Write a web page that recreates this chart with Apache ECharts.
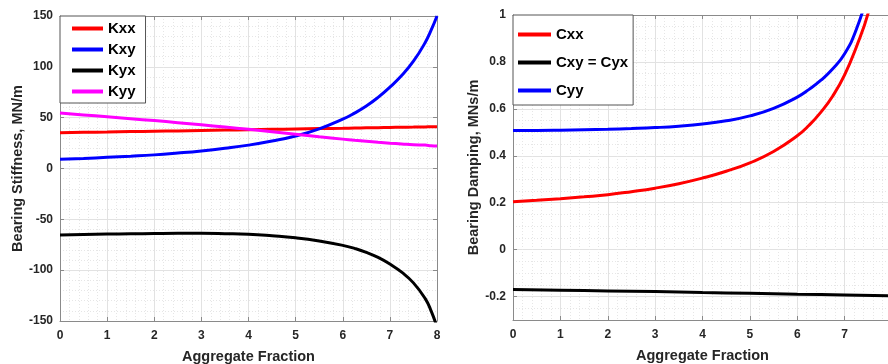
<!DOCTYPE html>
<html>
<head>
<meta charset="utf-8">
<script src="https://cdn.jsdelivr.net/npm/echarts@6/dist/echarts.min.js"></script>
<style>
  html, body { margin: 0; padding: 0; background: #fff; }
  #chart { width: 888px; height: 364px; }
</style>
</head>
<body>
<div id="chart"></div>
<script>
// stiffness panel (MN/m)
const kX   = [0, 0.5, 1, 1.5, 2, 2.5, 3, 3.5, 4, 4.5, 5, 5.5, 6, 6.25, 6.5, 6.75, 7, 7.25, 7.5, 7.75, 7.875, 8];
const kxx  = [35.2, 35.6, 35.9, 36.3, 36.7, 37.0, 37.4, 37.8, 38.1, 38.5, 38.9, 39.3, 39.6, 39.8, 40.0, 40.2, 40.4, 40.6, 40.7, 40.9, 41.0, 41.1];
const kxy  = [9, 9.9, 11, 12.1, 13.4, 15.2, 17.3, 19.9, 23, 27, 32, 39, 48.5, 54.5, 61.5, 70, 80, 91.5, 105.5, 124, 136, 150];
const kyx  = [-65.3, -64.9, -64.5, -64.2, -63.95, -63.8, -63.8, -64.1, -64.7, -66.2, -68.2, -71.3, -75.6, -78.6, -82.5, -87.5, -94, -102, -112.5, -128, -140, -156];
const kyy  = [54.5, 52.7, 50.9, 49, 47.1, 45.1, 43, 40.8, 38.5, 36.1, 33.7, 31.2, 28.9, 27.8, 26.8, 25.8, 24.9, 24.1, 23.3, 23.0, 22.4, 22.1];

// damping panel (MNs/m)
const cX   = [0, 0.5, 1, 1.5, 2, 2.5, 3, 3.5, 4, 4.5, 5, 5.5, 6, 6.25, 6.5, 6.75, 7, 7.25, 7.5, 7.75];
const cxx  = [0.204, 0.21, 0.217, 0.225, 0.234, 0.247, 0.262, 0.281, 0.305, 0.334, 0.37, 0.418, 0.485, 0.53, 0.586, 0.655, 0.745, 0.865, 1.01, 1.22];
const cyy  = [0.508, 0.508, 0.509, 0.511, 0.513, 0.516, 0.52, 0.526, 0.535, 0.549, 0.57, 0.602, 0.65, 0.683, 0.722, 0.771, 0.835, 0.94, 1.1, 1.33];
const cxyX = [0, 1, 2, 3, 4, 5, 6, 7, 8];
const cxy  = [-0.170, -0.173, -0.176, -0.179, -0.183, -0.186, -0.190, -0.193, -0.197];

const yTicksC = [-0.2, 0, 0.2, 0.4, 0.6, 0.8, 1];

const pair = (xs, ys) => xs.map((x, i) => [x, ys[i]]);

const font = 'Liberation Sans, Arial, Helvetica, sans-serif';
const axisColor = '#8a8a8a';
const tickLabel = { color: '#262626', fontFamily: font, fontWeight: 'bold', fontSize: 12 };
const nameStyle = { color: '#262626', fontFamily: font, fontWeight: 'bold', fontSize: 14.5 };
const major = { show: true, lineStyle: { color: '#e2e2e2', width: 1, type: 'solid' } };
const minor = { show: true, lineStyle: { color: '#e6e6e6', width: 1, type: [1, 2] } };

const mainX = (gridIndex) => ({
  type: 'value', gridIndex, position: 'bottom', min: 0, max: 8, interval: 1,
  name: 'Aggregate Fraction', nameLocation: 'middle', nameGap: 28, nameTextStyle: nameStyle,
  axisLine: { show: true, onZero: false, lineStyle: { color: axisColor } },
  axisTick: { show: true, inside: true, length: 4, lineStyle: { color: axisColor } },
  axisLabel: Object.assign({ margin: 9 }, tickLabel),
  splitLine: major,
  minorTick: { show: false, splitNumber: 5 },
  minorSplitLine: minor
});

const mirror = (gridIndex, position, extra) => Object.assign({
  type: 'value', gridIndex, position,
  axisLine: { show: true, onZero: false, lineStyle: { color: axisColor } },
  axisTick: { show: true, inside: true, length: 4, lineStyle: { color: axisColor } },
  axisLabel: { show: false },
  splitLine: { show: false }
}, extra);

const line = (name, color, data, xi, yi) => ({
  name, type: 'line', xAxisIndex: xi, yAxisIndex: yi, data,
  showSymbol: false, smooth: true, clip: true,
  lineStyle: { color, width: 3 }, itemStyle: { color },
  emphasis: { disabled: true }
});

const legendBase = {
  orient: 'vertical', icon: 'rect', itemHeight: 4,
  backgroundColor: '#fff', borderColor: '#555', borderWidth: 1, borderRadius: 0,
  textStyle: { color: '#000', fontFamily: font, fontWeight: 'bold', fontSize: 15 },
  selectedMode: false
};

const chart = echarts.init(document.getElementById('chart'), null, { renderer: 'canvas' });
chart.setOption({
  animation: false,
  backgroundColor: '#fff',
  grid: [
    { left: 60, top: 16, width: 377, height: 305, outerBoundsMode: 'none', containLabel: false },
    { left: 513, top: 15, width: 379, height: 305, outerBoundsMode: 'none', containLabel: false }
  ],
  xAxis: [
    mainX(0),
    mirror(0, 'top', { min: 0, max: 8, interval: 1 }),
    mainX(1),
    mirror(1, 'top', { min: 0, max: 8, interval: 1 })
  ],
  yAxis: [
    {
      type: 'value', gridIndex: 0, position: 'left', min: -150, max: 150, interval: 50,
      name: 'Bearing Stiffness, MN/m', nameLocation: 'middle', nameGap: 35, nameTextStyle: nameStyle,
      axisLine: { show: true, lineStyle: { color: axisColor } },
      axisTick: { show: true, inside: true, length: 4, lineStyle: { color: axisColor } },
      axisLabel: Object.assign({ margin: 7 }, tickLabel),
      splitLine: major,
      minorTick: { show: false, splitNumber: 5 },
      minorSplitLine: minor
    },
    mirror(0, 'right', { min: -150, max: 150, interval: 50 }),
    {
      type: 'value', gridIndex: 1, position: 'left', min: -0.3, max: 1, splitNumber: 6,
      name: 'Bearing Damping, MNs/m', nameLocation: 'middle', nameGap: 27, nameTextStyle: nameStyle,
      axisLine: { show: true, lineStyle: { color: axisColor } },
      axisTick: { show: true, inside: true, length: 4, lineStyle: { color: axisColor } },
      axisLabel: Object.assign({ margin: 7, showMinLabel: false,
        formatter: v => yTicksC.some(t => Math.abs(t - v) < 1e-9) ? String(+v.toFixed(1)) : '' }, tickLabel),
      splitLine: major,
      minorTick: { show: false, splitNumber: 4 },
      minorSplitLine: minor
    },
    mirror(1, 'right', { min: -0.3, max: 1, splitNumber: 6 })
  ],
  legend: [
    Object.assign({}, legendBase, {
      left: 60, top: 16, padding: [5, 10, 4, 12], itemWidth: 31, itemGap: 6,
      data: ['Kxx', 'Kxy', 'Kyx', 'Kyy']
    }),
    Object.assign({}, legendBase, {
      left: 513, top: 15, padding: [12, 5, 7, 5], itemWidth: 33, itemGap: 13,
      data: ['Cxx', 'Cxy = Cyx', 'Cyy']
    })
  ],
  series: [
    line('Kxx', '#ff0000', pair(kX, kxx), 0, 0),
    line('Kxy', '#0000ff', pair(kX, kxy), 0, 0),
    line('Kyx', '#000000', pair(kX, kyx), 0, 0),
    line('Kyy', '#ff00ff', pair(kX, kyy), 0, 0),
    line('Cxx', '#ff0000', pair(cX, cxx), 2, 2),
    line('Cxy = Cyx', '#000000', pair(cxyX, cxy), 2, 2),
    line('Cyy', '#0000ff', pair(cX, cyy), 2, 2)
  ]
});
</script>
</body>
</html>
